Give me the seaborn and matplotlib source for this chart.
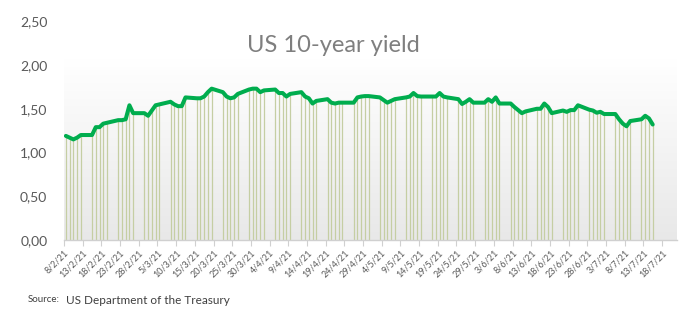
import numpy as np
import pandas as pd
import matplotlib
matplotlib.use("Agg")
import matplotlib.pyplot as plt
import matplotlib.dates as mdates
from matplotlib.colors import LinearSegmentedColormap
import seaborn as sns

# ---- data ----
start_date = "2021-02-08"
end_date = "2021-07-15"
# weekday observations (Feb 8 .. Jul 15, 2021)
feb = [1.19, 1.17, 1.15, 1.17, 1.20, 1.20, 1.29, 1.29, 1.33, 1.34,
       1.37, 1.37, 1.38, 1.54, 1.45]
mar = [1.45, 1.42, 1.48, 1.54, 1.55, 1.58, 1.55, 1.53, 1.53, 1.63,
       1.62, 1.62, 1.64, 1.69, 1.73, 1.69, 1.64, 1.62, 1.63, 1.67,
       1.72, 1.73, 1.73]
apr = [1.69, 1.71, 1.72, 1.68, 1.68, 1.64, 1.67, 1.69, 1.64, 1.62,
       1.56, 1.59, 1.61, 1.57, 1.56, 1.57, 1.57, 1.57, 1.63, 1.64,
       1.645, 1.645]
may = [1.63, 1.60, 1.57, 1.59, 1.61, 1.63, 1.64, 1.68, 1.645, 1.64,
       1.64, 1.64, 1.68, 1.64, 1.63, 1.61, 1.555, 1.58, 1.61, 1.57,
       1.57]
jun = [1.61, 1.58, 1.63, 1.56, 1.56, 1.52, 1.485, 1.45, 1.47, 1.50,
       1.50, 1.56, 1.52, 1.45, 1.48, 1.465, 1.485, 1.485, 1.54, 1.49,
       1.48, 1.455]
jul = [1.465, 1.44, 1.44, 1.38, 1.33, 1.30, 1.36, 1.38, 1.42, 1.39, 1.32]

tick_labels = ["8/2/21", "13/2/21", "18/2/21", "23/2/21", "28/2/21", "5/3/21",
               "10/3/21", "15/3/21", "20/3/21", "25/3/21", "30/3/21", "4/4/21",
               "9/4/21", "14/4/21", "19/4/21", "24/4/21", "29/4/21", "4/5/21",
               "9/5/21", "14/5/21", "19/5/21", "24/5/21", "29/5/21", "3/6/21",
               "8/6/21", "13/6/21", "18/6/21", "23/6/21", "28/6/21", "3/7/21",
               "8/7/21", "13/7/21", "18/7/21"]
y_ticks = [0.0, 0.5, 1.0, 1.5, 2.0, 2.5]
y_tick_labels = ["0,00", "0,50", "1,00", "1,50", "2,00", "2,50"]

values = feb + mar + apr + may + jun + jul
dates = pd.bdate_range(start_date, end_date) + pd.Timedelta(hours=12)
df = pd.DataFrame({"date": dates, "yield": values})

# ---- style ----
sns.set_theme(style="white")
plt.rcParams["font.family"] = ["Lato", "DejaVu Sans"]

fig = plt.figure(figsize=(6.92, 3.22), dpi=100)
ax = fig.add_axes([64 / 692, 1 - 240 / 322, (677 - 64) / 692, (240 - 21.3) / 322])

x0 = mdates.date2num(pd.Timestamp("2021-02-08"))
x1 = mdates.date2num(pd.Timestamp("2021-07-22"))

# gradient plot-area background
cmap = LinearSegmentedColormap.from_list("bg", ["#ffffff", "#e8e8e8"])
grad = np.linspace(0, 1, 256).reshape(-1, 1)
ax.imshow(grad, extent=[x0, x1, 0, 2.06], cmap=cmap, aspect="auto",
          zorder=0, interpolation="bicubic")

# drop lines
ax.vlines(df["date"], 0, df["yield"], color="#c5cea3", linewidth=0.9, zorder=1)

# main line
sns.lineplot(data=df, x="date", y="yield", color="#00ad4e", linewidth=2.9,
             ax=ax, zorder=3)

ax.set_xlim(x0, x1)
ax.set_ylim(0, 2.5)

tick_dates = pd.date_range("2021-02-08", periods=len(tick_labels), freq="5D")
ax.set_xticks(mdates.date2num(tick_dates))
ax.set_xticklabels(tick_labels, rotation=45, ha="right", rotation_mode="anchor",
                   fontsize=6.5, color="#595959")
ax.tick_params(axis="x", which="major", bottom=True, length=4, width=0.8,
               color="#d0d0d0", pad=2)

ax.set_yticks(y_ticks)
ax.set_yticklabels(y_tick_labels, fontsize=10, color="#595959")
ax.tick_params(axis="y", length=0, pad=12)

ax.set_xlabel("")
ax.set_ylabel("")
for s in ["top", "right", "left"]:
    ax.spines[s].set_visible(False)
ax.spines["bottom"].set_color("#d0d0d0")
ax.spines["bottom"].set_linewidth(1)
ax.grid(False)
ax.set_facecolor("none")

fig.text(333 / 692, 1 - 45 / 322, "US 10-year yield", ha="center", va="center",
         fontsize=17, color="#7f7f7f")
fig.text(28 / 692, 1 - 300 / 322, "Source:", ha="left", va="center",
         fontsize=7, color="#404040")
fig.text(66 / 692, 1 - 300 / 322, "US Department of the Treasury", ha="left",
         va="center", fontsize=8.5, color="#404040")

fig.savefig("out.png", dpi=100)
